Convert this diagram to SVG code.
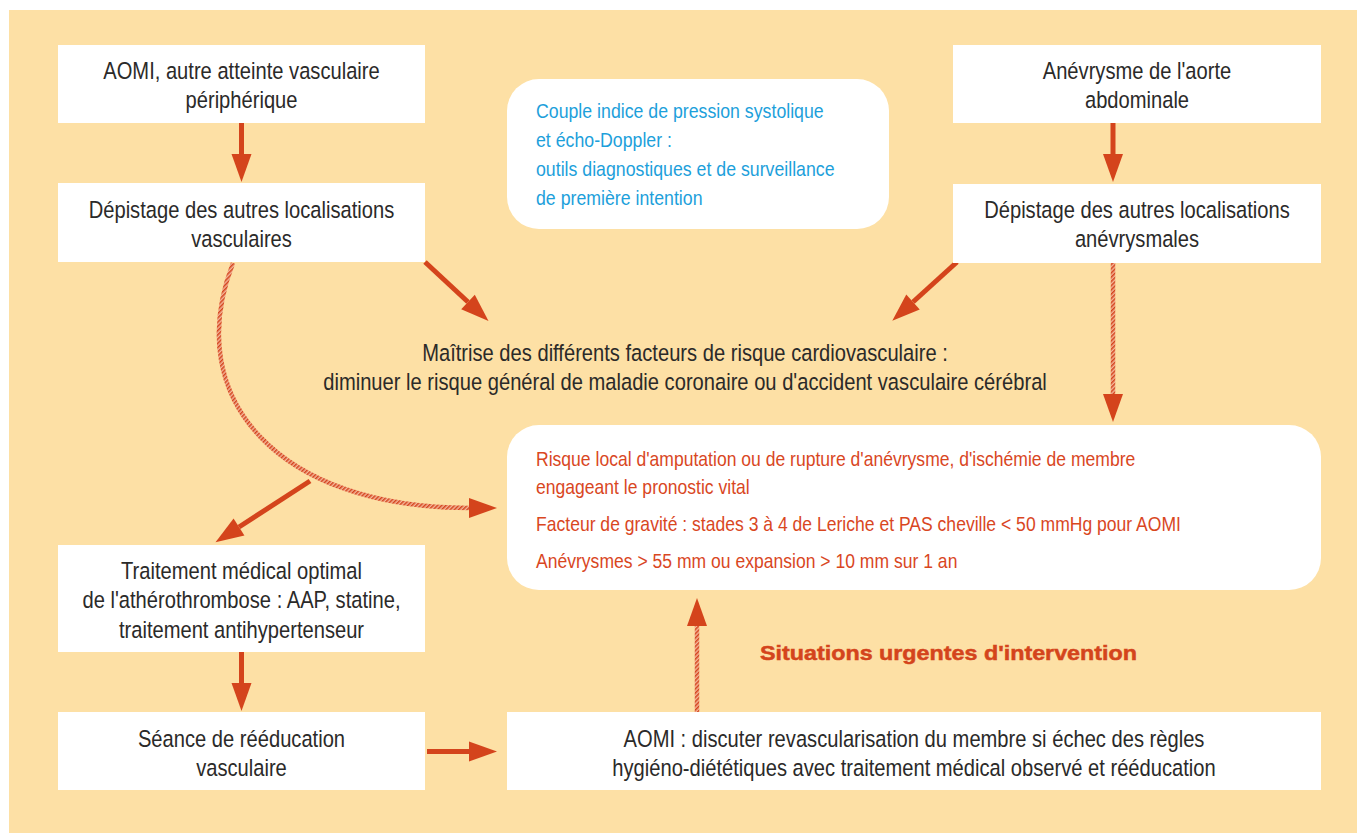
<svg xmlns="http://www.w3.org/2000/svg" width="1357" height="833" viewBox="0 0 1357 833">
  <defs>
    <style>
      .box { fill: #ffffff; }
      .t { font-family: "Liberation Sans", Arial, sans-serif; font-size: 23.3px; fill: #2b2a29; text-anchor: middle; }
      .blue { font-family: "Liberation Sans", Arial, sans-serif; font-size: 20.5px; fill: #1d9fdb; }
      .red { font-family: "Liberation Sans", Arial, sans-serif; font-size: 20.3px; fill: #d9471f; }
      .title { font-family: "Liberation Sans", Arial, sans-serif; font-weight: bold; font-size: 21px; fill: #d4441c; stroke: #d4441c; stroke-width: 0.5; }
      .solid { stroke: #d4441c; stroke-width: 5; fill: none; marker-end: url(#head); }
      .hatch { stroke: url(#stripes); stroke-width: 4.5; fill: none; marker-end: url(#head); }
    </style>
    <pattern id="stripes" width="3" height="3" patternUnits="userSpaceOnUse" patternTransform="rotate(45)">
      <rect width="3" height="3" fill="#f4b79a"/>
      <rect width="1.5" height="3" fill="#d4441c"/>
    </pattern>
    <marker id="head" markerUnits="userSpaceOnUse" markerWidth="30" markerHeight="22" refX="0" refY="10" orient="auto" overflow="visible">
      <path d="M0,0 L28,10 L0,20 Z" fill="#d4441c"/>
    </marker>
  </defs>

  <!-- panel -->
  <rect x="0" y="0" width="1357" height="833" fill="#ffffff"/>
  <rect x="9" y="10" width="1348" height="823" fill="#fde0a5"/>

  <!-- connectors -->
  <g id="connectors">
    <line class="solid" x1="241.5" y1="123" x2="241.5" y2="154"/>
    <line class="solid" x1="1113" y1="123" x2="1113" y2="154"/>
    <line class="solid" x1="425" y1="262" x2="468" y2="302"/>
    <line class="solid" x1="957" y1="262" x2="913" y2="302"/>
    <line class="solid" x1="310" y1="481" x2="239" y2="527"/>
    <line class="solid" x1="241.5" y1="652" x2="241.5" y2="683"/>
    <line class="solid" x1="427" y1="751.5" x2="469" y2="751.5"/>
    <path class="hatch" d="M233,263 C180,400 280,508 469,508"/>
    <line class="hatch" x1="1113" y1="263" x2="1113" y2="394"/>
    <line class="hatch" x1="697" y1="712" x2="697" y2="626"/>
  </g>

  <!-- left column -->
  <g id="n-aomi">
    <rect class="box" x="58" y="45" width="367" height="78"/>
    <g transform="translate(241.5 0) scale(0.865 1)">
      <text class="t" x="0" y="79">AOMI, autre atteinte vasculaire</text>
      <text class="t" x="0" y="108">périphérique</text>
    </g>
  </g>
  <g id="n-depistage-vasc">
    <rect class="box" x="58" y="183" width="367" height="79"/>
    <g transform="translate(241.5 0) scale(0.865 1)">
      <text class="t" x="0" y="218">Dépistage des autres localisations</text>
      <text class="t" x="0" y="247">vasculaires</text>
    </g>
  </g>
  <g id="n-traitement">
    <rect class="box" x="58" y="545" width="367" height="107"/>
    <g transform="translate(241.5 0) scale(0.865 1)">
      <text class="t" x="0" y="579">Traitement médical optimal</text>
      <text class="t" x="0" y="608">de l'athérothrombose : AAP, statine,</text>
      <text class="t" x="0" y="638">traitement antihypertenseur</text>
    </g>
  </g>
  <g id="n-reeducation">
    <rect class="box" x="58" y="712" width="367" height="78"/>
    <g transform="translate(241.5 0) scale(0.865 1)">
      <text class="t" x="0" y="747">Séance de rééducation</text>
      <text class="t" x="0" y="776">vasculaire</text>
    </g>
  </g>

  <!-- right column -->
  <g id="n-anevrysme">
    <rect class="box" x="953" y="45" width="368" height="78"/>
    <g transform="translate(1137 0) scale(0.865 1)">
      <text class="t" x="0" y="79">Anévrysme de l'aorte</text>
      <text class="t" x="0" y="108">abdominale</text>
    </g>
  </g>
  <g id="n-depistage-anev">
    <rect class="box" x="953" y="184" width="368" height="79"/>
    <g transform="translate(1137 0) scale(0.865 1)">
      <text class="t" x="0" y="218">Dépistage des autres localisations</text>
      <text class="t" x="0" y="247">anévrysmales</text>
    </g>
  </g>

  <!-- centre -->
  <g id="n-outils">
    <rect class="box" x="507" y="79" width="382" height="150" rx="32"/>
    <g transform="translate(536 0) scale(0.865 1)">
      <text class="blue" x="0" y="118">Couple indice de pression systolique</text>
      <text class="blue" x="0" y="147">et écho-Doppler :</text>
      <text class="blue" x="0" y="176">outils diagnostiques et de surveillance</text>
      <text class="blue" x="0" y="205">de première intention</text>
    </g>
  </g>
  <g id="n-maitrise">
    <g transform="translate(685 0) scale(0.865 1)">
      <text class="t" x="0" y="361">Maîtrise des différents facteurs de risque cardiovasculaire :</text>
      <text class="t" x="0" y="390">diminuer le risque général de maladie coronaire ou d'accident vasculaire cérébral</text>
    </g>
  </g>
  <g id="n-risque">
    <rect class="box" x="507" y="425" width="814" height="165" rx="32"/>
    <g transform="translate(536 0) scale(0.865 1)">
      <text class="red" x="0" y="466">Risque local d'amputation ou de rupture d'anévrysme, d'ischémie de membre</text>
      <text class="red" x="0" y="494">engageant le pronostic vital</text>
      <text class="red" x="0" y="531">Facteur de gravité : stades 3 à 4 de Leriche et PAS cheville &lt; 50 mmHg pour AOMI</text>
      <text class="red" x="0" y="568">Anévrysmes &gt; 55 mm ou expansion &gt; 10 mm sur 1 an</text>
    </g>
  </g>
  <g id="n-situations">
    <text class="title" x="760" y="660" textLength="377" lengthAdjust="spacingAndGlyphs">Situations urgentes d'intervention</text>
  </g>
  <g id="n-revasc">
    <rect class="box" x="507" y="712" width="814" height="78"/>
    <g transform="translate(914 0) scale(0.865 1)">
      <text class="t" x="0" y="747">AOMI : discuter revascularisation du membre si échec des règles</text>
      <text class="t" x="0" y="776">hygiéno-diététiques avec traitement médical observé et rééducation</text>
    </g>
  </g>
</svg>
